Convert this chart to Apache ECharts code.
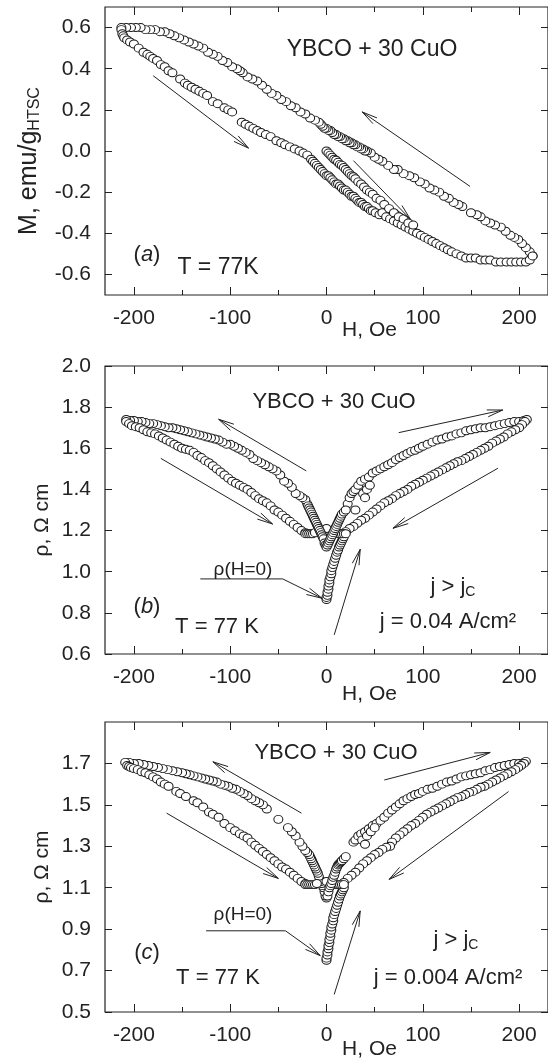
<!DOCTYPE html>
<html><head><meta charset="utf-8">
<script src="https://cdn.jsdelivr.net/npm/echarts@6.0.0/dist/echarts.min.js"></script>
<style>html,body{margin:0;padding:0;background:#fff}#c{width:548px;height:1061px}</style>
</head><body><div id="c"></div>
<script>
// ---------- Tick labels ----------
const xMajorTicks = [-200, -100, 0, 100, 200];
const xMinorTicks = [-150, -50, 50, 150];
const yTicksA = [-0.6, -0.4, -0.2, 0.0, 0.2, 0.4, 0.6];
const yTicksB = [0.6, 0.8, 1.0, 1.2, 1.4, 1.6, 1.8, 2.0];
const yTicksC = [0.5, 0.7, 0.9, 1.1, 1.3, 1.5, 1.7];

// ---------- Panel (a): M (emu/g) vs H (Oe) ----------
const aDescending = [[214,-0.51],[211,-0.49],[207,-0.47],[203,-0.45],[199,-0.43],[195,-0.42],[191,-0.41],[186,-0.39],[181,-0.37],[175,-0.36],[170,-0.35],[165,-0.34],[160,-0.32],[156,-0.31],[150,-0.30],[141,-0.27],[137,-0.26],[132,-0.25],[127,-0.23],[122,-0.22],[117,-0.20],[112,-0.19],[107,-0.18],[102,-0.16],[97,-0.15],[91,-0.13],[86,-0.12],[80,-0.11],[74,-0.09],[70,-0.09],[64,-0.07],[58,-0.05],[54,-0.04],[50,-0.03],[46,-0.01],[42,0.00],[40,0.00],[38,0.01],[36,0.01],[34,0.02],[32,0.02],[30,0.03],[28,0.03],[26,0.04],[24,0.04],[22,0.05],[20,0.05],[18,0.06],[16,0.06],[14,0.07],[12,0.07],[10,0.08],[8,0.08],[6,0.09],[4,0.10],[2,0.10],[0,0.11],[-2,0.11],[-4,0.12],[-6,0.13],[-8,0.14],[-12,0.15],[-17,0.16],[-22,0.18],[-27,0.19],[-32,0.21],[-37,0.22],[-42,0.24],[-47,0.25],[-52,0.27],[-57,0.28],[-62,0.30],[-67,0.32],[-72,0.34],[-77,0.35],[-82,0.36],[-87,0.38],[-90,0.39],[-93,0.40],[-98,0.41],[-103,0.43],[-108,0.44],[-113,0.46],[-118,0.47],[-123,0.48],[-128,0.50],[-133,0.51],[-138,0.52],[-143,0.53],[-148,0.54],[-153,0.55],[-158,0.56],[-163,0.57],[-168,0.58],[-173,0.58],[-178,0.59],[-183,0.59],[-188,0.59],[-193,0.60],[-198,0.60],[-203,0.60],[-208,0.60],[-213,0.60]];
const aAscending = [[-213,0.59],[-212,0.57],[-211,0.56],[-210,0.55],[-207,0.54],[-204,0.53],[-200,0.52],[-195,0.50],[-190,0.48],[-186,0.47],[-183,0.46],[-180,0.45],[-176,0.44],[-172,0.42],[-168,0.41],[-164,0.39],[-160,0.38],[-152,0.35],[-147,0.33],[-144,0.32],[-140,0.31],[-136,0.30],[-132,0.29],[-128,0.28],[-124,0.27],[-118,0.24],[-113,0.23],[-106,0.21],[-102,0.20],[-98,0.19],[-88,0.14],[-84,0.13],[-80,0.12],[-76,0.11],[-72,0.10],[-68,0.09],[-63,0.08],[-58,0.07],[-52,0.05],[-47,0.04],[-43,0.03],[-38,0.02],[-33,0.01],[-28,0.00],[-24,-0.01],[-20,-0.02],[-16,-0.04],[-14,-0.05],[-12,-0.06],[-10,-0.07],[-8,-0.08],[-6,-0.09],[-4,-0.10],[-2,-0.11],[0,-0.12],[2,-0.12],[4,-0.13],[6,-0.14],[8,-0.15],[10,-0.16],[12,-0.16],[14,-0.17],[16,-0.18],[18,-0.19],[20,-0.19],[22,-0.20],[24,-0.21],[26,-0.22],[28,-0.22],[30,-0.23],[32,-0.24],[34,-0.25],[36,-0.25],[38,-0.26],[40,-0.27],[42,-0.27],[44,-0.28],[46,-0.29],[48,-0.29],[51,-0.30],[55,-0.31],[58,-0.30],[62,-0.32],[66,-0.33],[70,-0.34],[74,-0.35],[78,-0.36],[82,-0.37],[86,-0.38],[90,-0.39],[94,-0.40],[98,-0.41],[102,-0.42],[106,-0.43],[110,-0.44],[114,-0.45],[118,-0.46],[122,-0.47],[126,-0.48],[130,-0.49],[135,-0.50],[140,-0.51],[145,-0.52],[150,-0.52],[155,-0.52],[160,-0.53],[165,-0.53],[170,-0.53],[176,-0.54],[181,-0.54],[187,-0.54],[192,-0.54],[197,-0.54],[202,-0.54],[207,-0.54],[211,-0.53],[214,-0.51]];
const aVirgin = [[0,0.00],[2,-0.01],[4,-0.02],[6,-0.03],[8,-0.04],[10,-0.045],[12,-0.055],[14,-0.065],[16,-0.07],[18,-0.08],[20,-0.09],[22,-0.10],[24,-0.11],[26,-0.12],[28,-0.125],[30,-0.135],[33,-0.15],[36,-0.16],[39,-0.175],[42,-0.19],[45,-0.20],[48,-0.21],[52,-0.23],[56,-0.24],[60,-0.26],[65,-0.28],[70,-0.30],[75,-0.32],[80,-0.33],[85,-0.35],[90,-0.36]];
// arrows: [x1, y1, x2, y2, head]
const aArrows = [[-180,0.366,-81,0.014,1],[149,-0.172,37,0.19,1],[28,-0.047,87,-0.331,1]];

// ---------- Panel (b): rho (Ohm cm) vs H, j = 0.04 A/cm2 ----------
const bLeftUpper = [[-20,1.33],[-22,1.35],[-25,1.36],[-28,1.37],[-32,1.38],[-36,1.41],[-40,1.43],[-44,1.44],[-48,1.47],[-52,1.49],[-56,1.50],[-60,1.51],[-64,1.52],[-68,1.53],[-72,1.54],[-76,1.55],[-80,1.57],[-84,1.58],[-88,1.59],[-92,1.60],[-96,1.61],[-100,1.62],[-104,1.62],[-108,1.63],[-112,1.64],[-116,1.645],[-120,1.65],[-124,1.655],[-128,1.66],[-132,1.665],[-136,1.67],[-140,1.675],[-144,1.68],[-148,1.685],[-152,1.69],[-156,1.695],[-160,1.70],[-164,1.70],[-168,1.705],[-172,1.71],[-176,1.715],[-180,1.72],[-184,1.72],[-188,1.725],[-192,1.73],[-196,1.73],[-200,1.735],[-204,1.735],[-208,1.74]];
const bLeftLower = [[-208,1.73],[-205,1.72],[-202,1.71],[-198,1.705],[-194,1.70],[-190,1.69],[-186,1.68],[-182,1.675],[-178,1.67],[-174,1.66],[-170,1.65],[-166,1.64],[-162,1.63],[-158,1.62],[-154,1.61],[-150,1.60],[-146,1.595],[-142,1.59],[-138,1.58],[-134,1.565],[-130,1.555],[-126,1.54],[-122,1.53],[-118,1.515],[-114,1.50],[-110,1.485],[-106,1.47],[-102,1.455],[-98,1.44],[-94,1.43],[-90,1.42],[-86,1.41],[-82,1.40],[-78,1.385],[-74,1.37],[-70,1.355],[-66,1.345],[-62,1.335],[-58,1.32],[-54,1.30],[-50,1.29],[-46,1.275],[-42,1.26],[-38,1.245],[-34,1.23],[-30,1.215],[-26,1.20],[-22,1.19]];
const bCenter = [[-22,1.185],[-20,1.185],[-18,1.185],[-16,1.185],[-14,1.185],[-12,1.19],[12,1.185],[14,1.185],[16,1.185],[18,1.185],[20,1.185],[0,1.21],[-19,1.32],[-18,1.31],[-17,1.30],[-16,1.29],[-15,1.28],[-14,1.27],[-13,1.26],[-12,1.25],[-11,1.24],[-10,1.23],[-9,1.22],[-8,1.21],[-7,1.20],[-6,1.19],[-5,1.18],[-4,1.17],[-3,1.16],[-2,1.14],[-1,1.13],[0,1.12],[1,1.13],[2,1.14],[3,1.15],[4,1.16],[5,1.17],[6,1.18],[7,1.19],[8,1.20],[9,1.21],[10,1.22],[11,1.23],[12,1.24],[13,1.25],[14,1.26],[15,1.27],[16,1.28],[18,1.29],[20,1.30]];
const bRightUpper = [[22,1.33],[24,1.36],[26,1.38],[28,1.39],[30,1.40],[33,1.42],[36,1.44],[40,1.45],[44,1.46],[48,1.48],[52,1.49],[56,1.50],[60,1.51],[64,1.52],[68,1.53],[72,1.545],[76,1.555],[80,1.565],[84,1.575],[88,1.585],[92,1.59],[96,1.60],[100,1.61],[105,1.62],[110,1.63],[115,1.64],[120,1.645],[125,1.655],[130,1.66],[135,1.67],[140,1.675],[145,1.685],[150,1.69],[155,1.695],[160,1.70],[165,1.70],[170,1.705],[175,1.71],[180,1.715],[185,1.72],[190,1.725],[195,1.73],[200,1.73],[205,1.735],[208,1.74],[30,1.30],[38,1.38],[40,1.36],[42,1.40],[45,1.42]];
const bRightLower = [[206,1.73],[203,1.715],[200,1.70],[196,1.69],[192,1.68],[188,1.67],[184,1.655],[180,1.645],[176,1.635],[172,1.625],[168,1.61],[164,1.60],[160,1.59],[156,1.58],[152,1.57],[148,1.56],[144,1.55],[140,1.54],[136,1.535],[132,1.525],[128,1.515],[124,1.505],[120,1.495],[116,1.485],[112,1.475],[108,1.465],[104,1.455],[100,1.445],[96,1.435],[92,1.425],[88,1.415],[84,1.40],[80,1.39],[76,1.38],[72,1.37],[68,1.355],[64,1.345],[60,1.335],[56,1.32],[52,1.305],[48,1.29],[44,1.275],[40,1.26],[36,1.25],[32,1.235],[28,1.22],[24,1.21],[20,1.195]];
const bVirgin = [[0,0.865],[0,0.875],[1,0.885],[1,0.90],[2,0.915],[2,0.93],[3,0.945],[3,0.96],[4,0.975],[5,0.99],[5,1.005],[6,1.02],[7,1.035],[8,1.05],[9,1.065],[10,1.08],[11,1.095],[12,1.105],[13,1.12],[14,1.13],[15,1.14],[16,1.15],[17,1.16],[18,1.17]];
const bArrows = [[-21,1.49,-112,1.741,1],[-172,1.551,-56,1.232,1],[75,1.676,183,1.786,1],[178,1.503,69,1.211,1],[8,0.693,35,1.109,1],[-131,0.965,-45.5,0.965,0],[-45.5,0.965,-4.7,0.871,1]];

// ---------- Panel (c): rho (Ohm cm) vs H, j = 0.004 A/cm2 ----------
const cLeftUpper = [[0,1.05],[-1,1.06],[-2,1.08],[-3,1.10],[-4,1.11],[-5,1.12],[-6,1.13],[-7,1.14],[-8,1.155],[-9,1.17],[-10,1.18],[-11,1.19],[-12,1.20],[-13,1.21],[-14,1.22],[-15,1.23],[-16,1.24],[-17,1.25],[-18,1.26],[-20,1.27],[-22,1.28],[-25,1.30],[-28,1.32],[-32,1.35],[-36,1.37],[-40,1.39],[-50,1.43],[-62,1.48],[-66,1.50],[-70,1.51],[-74,1.52],[-78,1.53],[-82,1.545],[-86,1.555],[-90,1.565],[-94,1.575],[-98,1.58],[-102,1.59],[-106,1.595],[-110,1.60],[-114,1.61],[-118,1.615],[-122,1.62],[-126,1.625],[-130,1.63],[-134,1.635],[-138,1.64],[-142,1.645],[-146,1.65],[-150,1.655],[-155,1.66],[-160,1.665],[-165,1.67],[-170,1.675],[-175,1.68],[-180,1.685],[-185,1.69],[-190,1.695],[-195,1.70],[-200,1.70],[-205,1.705],[-209,1.705]];
const cLeftLower = [[-207,1.69],[-205,1.685],[-203,1.68],[-200,1.675],[-196,1.67],[-192,1.66],[-188,1.655],[-184,1.645],[-180,1.635],[-176,1.625],[-172,1.61],[-168,1.60],[-164,1.59],[-156,1.565],[-152,1.555],[-146,1.54],[-138,1.52],[-134,1.51],[-128,1.49],[-122,1.465],[-118,1.455],[-112,1.44],[-106,1.41],[-100,1.39],[-95,1.375],[-90,1.36],[-86,1.35],[-82,1.34],[-78,1.32],[-74,1.305],[-70,1.29],[-66,1.275],[-62,1.26],[-58,1.245],[-54,1.23],[-50,1.215],[-46,1.20],[-42,1.19],[-38,1.175],[-34,1.16],[-30,1.145],[-26,1.13],[-22,1.12]];
const cCenter = [[-22,1.115],[-20,1.115],[-18,1.115],[-16,1.115],[-14,1.115],[-12,1.115],[-10,1.12],[10,1.115],[12,1.115],[14,1.115],[16,1.115],[18,1.115],[0,1.13],[1,1.06],[2,1.08],[3,1.10],[4,1.11],[5,1.12],[6,1.135],[7,1.15],[8,1.16],[9,1.175],[10,1.19],[11,1.20],[12,1.21],[13,1.215],[14,1.22],[15,1.225],[16,1.23],[18,1.24],[20,1.25]];
const cRightUpper = [[28,1.32],[30,1.33],[33,1.35],[36,1.36],[40,1.37],[44,1.385],[48,1.40],[52,1.41],[56,1.425],[60,1.44],[64,1.46],[68,1.475],[72,1.49],[76,1.505],[80,1.52],[84,1.53],[88,1.54],[92,1.55],[96,1.555],[100,1.565],[105,1.575],[110,1.58],[115,1.59],[120,1.60],[125,1.61],[130,1.615],[135,1.625],[140,1.635],[145,1.64],[150,1.645],[155,1.65],[160,1.655],[165,1.665],[170,1.67],[175,1.68],[180,1.685],[185,1.69],[190,1.695],[195,1.70],[200,1.70],[205,1.705],[207,1.71],[37,1.33],[40,1.31],[42,1.35],[46,1.37],[50,1.39]];
const cRightLower = [[205,1.70],[202,1.69],[199,1.68],[196,1.67],[192,1.66],[188,1.65],[184,1.64],[180,1.63],[176,1.62],[172,1.61],[168,1.60],[164,1.59],[160,1.585],[156,1.575],[152,1.565],[148,1.56],[144,1.55],[140,1.54],[136,1.535],[132,1.525],[128,1.515],[124,1.505],[120,1.495],[116,1.485],[112,1.475],[108,1.465],[104,1.455],[100,1.44],[96,1.425],[92,1.41],[88,1.40],[84,1.385],[80,1.37],[76,1.355],[72,1.34],[68,1.32],[66,1.30],[62,1.295],[58,1.285],[54,1.27],[50,1.26],[46,1.245],[42,1.23],[38,1.215],[34,1.195],[30,1.175],[26,1.16],[22,1.145],[18,1.125]];
const cVirgin = [[0,0.75],[0,0.76],[1,0.775],[1,0.79],[2,0.805],[2,0.82],[3,0.835],[3,0.85],[4,0.865],[4,0.88],[5,0.895],[5,0.91],[6,0.925],[7,0.94],[7,0.955],[8,0.97],[9,0.985],[10,1.00],[11,1.015],[12,1.03],[13,1.045],[14,1.06],[15,1.07],[16,1.08],[17,1.09],[18,1.10]];
const cArrows = [[-26,1.46,-118,1.708,1],[-166,1.46,-50,1.145,1],[60,1.62,170,1.753,1],[189,1.564,65,1.14,1],[8,0.585,35,0.988,1],[-125,0.892,-42.6,0.892,0],[-42.6,0.892,-6.5,0.772,1]];

// ---------- Chart ----------
const FONT = '"Liberation Sans", Arial, Helvetica, sans-serif';
const INK = '#222';
const chart = echarts.init(document.getElementById('c'), null, {renderer: 'canvas'});

const grids = [
  {left: 105, top: 7, width: 445, height: 288},
  {left: 105, top: 366, width: 445, height: 288},
  {left: 105, top: 722, width: 445, height: 290}
].map(g => Object.assign(g, {show: true, borderColor: INK, borderWidth: 1.2, backgroundColor: 'transparent'}));

const noLine = {show: false, onZero: false};
function xAxesFor(gi, nameGap) {
  const base = {gridIndex: gi, type: 'value', min: -230, max: 230, axisLine: noLine, splitLine: {show: false}};
  return [
    Object.assign({}, base, {position: 'bottom', name: 'H, Oe', nameLocation: 'middle', nameGap: nameGap, nameMoveOverlap: false,
      nameTextStyle: {fontFamily: FONT, fontSize: 21, color: INK, padding: [0, 0, 0, 86]},
      axisTick: {inside: true, length: 8, customValues: xMajorTicks, lineStyle: {color: INK}},
      axisLabel: {customValues: xMajorTicks, fontFamily: FONT, fontSize: 21, color: INK, margin: 13}}),
    Object.assign({}, base, {position: 'bottom', axisTick: {inside: true, length: 5, customValues: xMinorTicks, lineStyle: {color: INK}}, axisLabel: {show: false}}),
    Object.assign({}, base, {position: 'top', axisTick: {inside: true, length: 8, customValues: xMajorTicks, lineStyle: {color: INK}}, axisLabel: {show: false}}),
    Object.assign({}, base, {position: 'top', axisTick: {inside: true, length: 5, customValues: xMinorTicks, lineStyle: {color: INK}}, axisLabel: {show: false}})
  ];
}
function yAxesFor(gi, min, max, ticks, name, nameGap, nameStyle) {
  const base = {gridIndex: gi, type: 'value', min: min, max: max, axisLine: noLine, splitLine: {show: false}};
  return [
    Object.assign({}, base, {position: 'left', name: name, nameLocation: 'middle', nameRotate: 90, nameGap: nameGap, nameMoveOverlap: false, nameTextStyle: nameStyle,
      axisTick: {inside: true, length: 7, customValues: ticks, lineStyle: {color: INK}},
      axisLabel: {customValues: ticks, fontFamily: FONT, fontSize: 21, color: INK, margin: 14, formatter: v => v.toFixed(1)}}),
    Object.assign({}, base, {position: 'right', axisTick: {inside: true, length: 7, customValues: ticks, lineStyle: {color: INK}}, axisLabel: {show: false}})
  ];
}
const xAxes = [].concat(xAxesFor(0, 25), xAxesFor(1, 30), xAxesFor(2, 27));
const yAxes = [].concat(
  yAxesFor(0, -0.7, 0.7, yTicksA, '{m|M, emu/g}{s|HTSC}', 62, {fontFamily: FONT, color: INK, padding: [0, 20, 0, 0],
    rich: {m: {fontFamily: FONT, fontSize: 25, color: INK}, s: {fontFamily: FONT, fontSize: 16, color: INK, padding: [12, 0, 0, 0]}}}),
  yAxesFor(1, 0.6, 2.0, yTicksB, 'ρ, Ω cm', 52, {fontFamily: FONT, fontSize: 21, color: INK, padding: [0, 20, 0, 0]}),
  yAxesFor(2, 0.5, 1.9, yTicksC, 'ρ, Ω cm', 52, {fontFamily: FONT, fontSize: 21, color: INK})
);

function scatter(gi, data) {
  return {type: 'scatter', xAxisIndex: gi * 4, yAxisIndex: gi * 2, data: data, symbol: 'circle', symbolSize: [9, 8],
    itemStyle: {color: '#fff', borderColor: '#1a1a1a', borderWidth: 1, opacity: 1}, emphasis: {disabled: true}, silent: true, z: 3};
}
function arrowRender(params, api) {
  const p1 = api.coord([api.value(0), api.value(1)]);
  const p2 = api.coord([api.value(2), api.value(3)]);
  const st = {stroke: INK, lineWidth: 1};
  const children = [{type: 'line', shape: {x1: p1[0], y1: p1[1], x2: p2[0], y2: p2[1]}, style: st}];
  if (api.value(4)) {
    const a = Math.atan2(p2[1] - p1[1], p2[0] - p1[0]);
    const L = 16, w = 0.22;
    [a + Math.PI - w, a + Math.PI + w].forEach(b => children.push({type: 'line',
      shape: {x1: p2[0], y1: p2[1], x2: p2[0] + L * Math.cos(b), y2: p2[1] + L * Math.sin(b)}, style: st}));
  }
  return {type: 'group', children: children};
}
function arrows(gi, data) {
  return {type: 'custom', xAxisIndex: gi * 4, yAxisIndex: gi * 2, data: data, renderItem: arrowRender,
    encode: {x: [0, 2], y: [1, 3]}, silent: true, z: 4, clip: false};
}

const series = [
  scatter(0, aDescending), scatter(0, aAscending), scatter(0, aVirgin), arrows(0, aArrows),
  scatter(1, bLeftUpper), scatter(1, bLeftLower), scatter(1, bRightUpper), scatter(1, bRightLower), scatter(1, bVirgin), scatter(1, bCenter), arrows(1, bArrows),
  scatter(2, cLeftUpper), scatter(2, cLeftLower), scatter(2, cRightUpper), scatter(2, cRightLower), scatter(2, cVirgin), scatter(2, cCenter), arrows(2, cArrows)
];

function txt(text, x, y, size, rich) {
  return {type: 'text', x: x, y: y, z: 10, silent: true, style: {text: text, fill: INK, font: size + 'px ' + FONT,
    fontFamily: FONT, fontSize: size, align: 'center', verticalAlign: 'middle', rich: rich || undefined}};
}
const italic = {i: {fontFamily: FONT, fontSize: 22, fontStyle: 'italic', fill: INK}, n: {fontFamily: FONT, fontSize: 22, fill: INK}};
const jc = {n: {fontFamily: FONT, fontSize: 22, fill: INK}, s: {fontFamily: FONT, fontSize: 14, fill: INK, padding: [11, 0, 0, 0]}};
const graphic = [
  txt('YBCO + 30 CuO', 372, 50, 23),
  txt('{n|(}{i|a}{n|)}', 147, 255, 22, italic),
  txt('T = 77K', 218, 268, 23),
  txt('YBCO + 30 CuO', 334, 402, 22),
  txt('ρ(H=0)', 243, 570, 19),
  txt('{n|(}{i|b}{n|)}', 147, 607, 22, italic),
  txt('T = 77 K', 217, 627, 22),
  txt('{n|j > j}{s|C}', 453, 587, 22, jc),
  txt('j = 0.04 A/cm²', 448, 622, 22),
  txt('YBCO + 30 CuO', 336, 753, 22),
  txt('ρ(H=0)', 243, 915, 19),
  txt('{n|(}{i|c}{n|)}', 147, 953, 22, italic),
  txt('T = 77 K', 218, 978, 22),
  txt('{n|j > j}{s|C}', 456, 940, 22, jc),
  txt('j = 0.004 A/cm²', 448, 978, 22)
];

chart.setOption({
  animation: false,
  backgroundColor: '#fff',
  grid: grids,
  xAxis: xAxes,
  yAxis: yAxes,
  series: series,
  graphic: graphic
});
</script>
</body></html>
